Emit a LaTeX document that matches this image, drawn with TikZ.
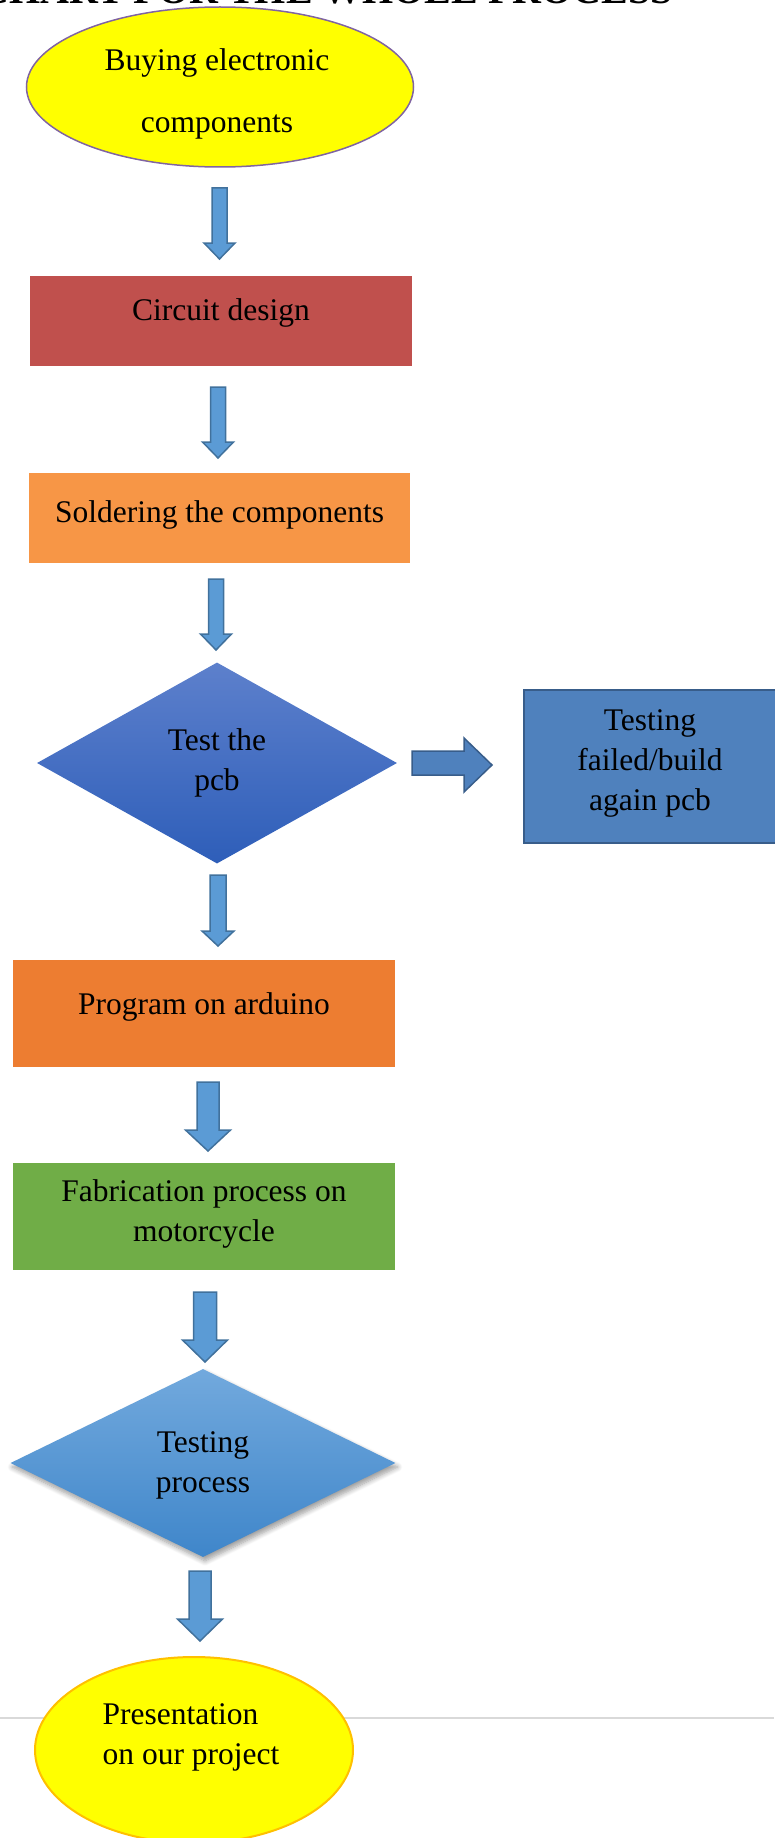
\documentclass[tikz,border=0pt]{standalone}
\usepackage{fontspec}
\setmainfont{Liberation Serif}
\usetikzlibrary{shapes.geometric,shadows.blur}
\definecolor{ellipseA}{HTML}{8064A2}
\definecolor{ellipseB}{HTML}{FFC000}
\definecolor{circuitred}{HTML}{C0504D}
\definecolor{solderorange}{HTML}{F79646}
\definecolor{programorange}{HTML}{ED7D31}
\definecolor{fabgreen}{HTML}{70AD47}
\definecolor{failblue}{HTML}{4F81BD}
\definecolor{failborder}{HTML}{385D8A}
\definecolor{arrowfill}{HTML}{5B9BD5}
\definecolor{arrowborder}{HTML}{41719C}
\definecolor{dOneTop}{HTML}{5D80CC}
\definecolor{dOneBot}{HTML}{2E5EB9}
\definecolor{dTwoTop}{HTML}{72A9DD}
\definecolor{dTwoBot}{HTML}{3F86CA}
\definecolor{rule}{HTML}{D9D9D9}
\definecolor{pureyellow}{HTML}{FFFF00}
\newcommand\dnBlock[6]{% cx, ytop, ytip, shaft half, head half, head length
  \draw[barrow] ({#1-#4},#2) -- ({#1+#4},#2) -- ({#1+#4},{#3-#6}) -- ({#1+#5},{#3-#6})
    -- (#1,#3) -- ({#1-#5},{#3-#6}) -- ({#1-#4},{#3-#6}) -- cycle;}
\begin{document}
\begin{tikzpicture}[x=1pt,y=-1pt,
  txt/.style={font=\fontsize{31.5}{40}\selectfont, text=black},
  boxnode/.style={rectangle, draw=none, minimum width=382, minimum height=90, inner sep=0},
  barrow/.style={fill=arrowfill, draw=arrowborder, line width=1.5pt, line join=miter},
  rarrow/.style={fill=failblue, draw=failborder, line width=1.5pt, line join=miter}]
\useasboundingbox (0,0) rectangle (774,1838);

% title (only its lower edge shows)
\node[anchor=base east, inner sep=0, font=\fontsize{40}{44}\selectfont\bfseries] (title) at (673,4) {FLOW CHART FOR THE WHOLE PROCESS};

% start ellipse
\node[ellipse, draw=ellipseA, line width=1.5pt, fill=pureyellow, minimum width=387, minimum height=160, inner sep=0,
  label={[txt, align=center, xshift=-3pt, yshift=-7pt]center:Buying electronic\\[22pt]components}] (buy) at (220,87) {};

\dnBlock{219.5}{188}{259}{7.5}{15.5}{16}

\node[boxnode, fill=circuitred, minimum width=382, minimum height=90,
  label={[txt, yshift=8pt]center:Circuit design}] (circ) at (221,321) {};

\dnBlock{218}{387}{458}{7.5}{15.5}{16}

\node[boxnode, fill=solderorange, minimum width=381, minimum height=90,
  label={[txt, yshift=3pt]center:Soldering the components}] (sold) at (219.5,518) {};

\dnBlock{216}{579}{650}{7.5}{15.5}{16}

\node[diamond, shading=axis, top color=dOneTop, bottom color=dOneBot, draw=none,
  minimum width=360, minimum height=201, inner sep=0, shape aspect=1.79,
  label={[txt, align=center, yshift=0pt]center:Test the\\pcb}] (test) at (217,763) {};

% right block arrow
\draw[rarrow] (412,751) -- (464,751) -- (464,738) -- (492,765) -- (464,792) -- (464,775) -- (412,775) -- cycle;

\node[rectangle, fill=failblue, draw=failborder, line width=2pt, minimum width=252, minimum height=153, inner sep=0,
  label={[txt, align=center, yshift=3pt]center:Testing\\failed/build\\again pcb}] (fail) at (650,766.5) {};

\dnBlock{218}{875}{946}{8}{16}{15}

\node[boxnode, fill=programorange, minimum width=382, minimum height=107,
  label={[txt, yshift=7pt]center:Program on arduino}] (prog) at (204,1013.5) {};

\dnBlock{208}{1082}{1151}{11}{22.5}{21}

\node[boxnode, fill=fabgreen, minimum width=382, minimum height=107,
  label={[txt, align=center, yshift=3pt]center:Fabrication process on\\motorcycle}] (fab) at (204,1216.5) {};

\dnBlock{205}{1292}{1362}{11.5}{22.5}{22}

\node[diamond, shading=axis, top color=dTwoTop, bottom color=dTwoBot, draw=none,
  minimum width=385, minimum height=188, inner sep=0, shape aspect=2.05,
  blur shadow={shadow xshift=2pt, shadow yshift=-4pt, shadow blur radius=5pt, shadow blur steps=8, shadow opacity=40},
  label={[txt, align=center, yshift=-2pt]center:Testing\\process}] (proc) at (203,1463) {};

\dnBlock{200}{1571}{1641}{11}{22.5}{22}

% footer rule behind the final ellipse
\draw[rule, line width=2pt] (0,1718) -- (774,1718);

\node[ellipse, draw=ellipseB, line width=2pt, fill=pureyellow, minimum width=318, minimum height=186, inner sep=0,
  label={[txt, align=left, xshift=-3pt, yshift=13pt]center:Presentation\\on our project}] (pres) at (194,1750) {};
\end{tikzpicture}
\end{document}
